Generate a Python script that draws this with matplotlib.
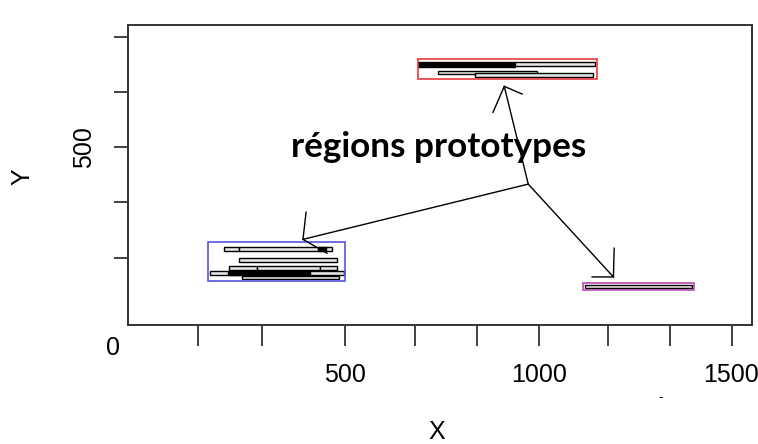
import matplotlib
matplotlib.use('Agg')
import matplotlib.pyplot as plt
from matplotlib.patches import Rectangle

plt.rcParams['font.family'] = ['Liberation Sans', 'DejaVu Sans']

# Graduations des axes
x_ticks = [120, 285, 500, 680, 840, 1000, 1180, 1340, 1500]
x_lab_pos = [500, 1000, 1496]
x_lab_txt = ['500', '1000', '1500']
y_ticks = [300, 400, 500, 600, 700]
y_labels = ['', '', '500', '', '']

# Segments horizontaux : début, fin, ordonnée, hauteur, remplissage
seg_debut = [187, 226, 430, 226, 200, 273, 435, 151, 198, 234,
             689, 939, 741, 836,
             1120]
seg_fin = [226, 466, 451, 479, 273, 435, 479, 497, 410, 484,
           939, 1146, 995, 1140,
           1396]
seg_y = [316, 316, 316, 295, 281, 281, 281, 272, 272, 263.5,
         649.5, 650, 635, 630,
         248]
seg_h = [7, 7, 7, 7, 7, 7, 7, 8, 8, 6,
         10, 7, 6, 7,
         6]
seg_plein = [False, False, True, False, False, False, False, False, True, False,
             True, False, False, False,
             False]

# Régions (rectangles englobants)
reg_x0 = [146, 687, 1115]
reg_x1 = [500, 1150, 1400]
reg_y0 = [257.5, 622.5, 241]
reg_y1 = [328, 659, 254]
reg_col = ['#5555dd', '#e8383d', '#b848b8']

# Flèches depuis le centre vers chaque région prototype
centre = (973, 433)
pointes_x = [911, 391, 1193]
pointes_y = [610, 333, 265]
tete1_x = [882, 399, 1195]
tete1_y = [563, 382, 317]
tete2_x = [957, 453, 1138]
tete2_y = [596, 308, 265]

fig = plt.figure(figsize=(7.58, 4.44), dpi=100)
ax = fig.add_axes([128 / 758, 1 - 325 / 444, 624 / 758, 300 / 444])
ax.set_xlim(-61, 1551)
ax.set_ylim(178, 721)

for x0, x1, y, h, plein in zip(seg_debut, seg_fin, seg_y, seg_h, seg_plein):
    ax.barh(y, x1 - x0, left=x0, height=h,
            color='black' if plein else '#e6e6e6',
            edgecolor='black', linewidth=1.0, zorder=2)

for x0, x1, y0, y1, c in zip(reg_x0, reg_x1, reg_y0, reg_y1, reg_col):
    ax.add_patch(Rectangle((x0, y0), x1 - x0, y1 - y0, fill=False,
                           edgecolor=c, linewidth=1.2, zorder=3))

for i in range(len(pointes_x)):
    px, py = pointes_x[i], pointes_y[i]
    ax.plot([centre[0], px], [centre[1], py], color='black', lw=1.0, zorder=4)
    ax.plot([tete1_x[i], px, tete2_x[i]], [tete1_y[i], py, tete2_y[i]],
            color='black', lw=1.0, zorder=4)

ax.text(741, 482.5, 'régions prototypes', family=['Lato', 'DejaVu Sans'],
        fontweight='bold', fontsize=25.3, ha='center', va='baseline', zorder=5)

ax.set_xticks(x_ticks)
ax.set_xticklabels([])
for xp, t in zip(x_lab_pos, x_lab_txt):
    ax.text(xp, -0.165, t, fontsize=18, ha='center', va='center',
            transform=ax.get_xaxis_transform(), clip_on=False)
ax.set_yticks(y_ticks)
ax.set_yticklabels(y_labels, fontsize=18, rotation=90, va='center')
ax.tick_params(axis='x', length=15, width=1.3, color='#333333')
ax.tick_params(axis='y', length=10, width=1.3, pad=13, color='#333333')
for s in ax.spines.values():
    s.set_linewidth(1.4)
    s.set_color('#333333')

fig.text(22 / 758, 1 - 177 / 444, 'Y', rotation=90, fontsize=18,
         ha='center', va='center')
fig.text(437 / 758, 1 - 432 / 444, 'X', fontsize=18, ha='center', va='center')
fig.text(113 / 758, 1 - 348 / 444, '0', fontsize=18, ha='center', va='center')
fig.text(661 / 758, 1 - 397 / 444, '-', fontsize=10, ha='center', va='center')

fig.savefig('out.png', dpi=100)
